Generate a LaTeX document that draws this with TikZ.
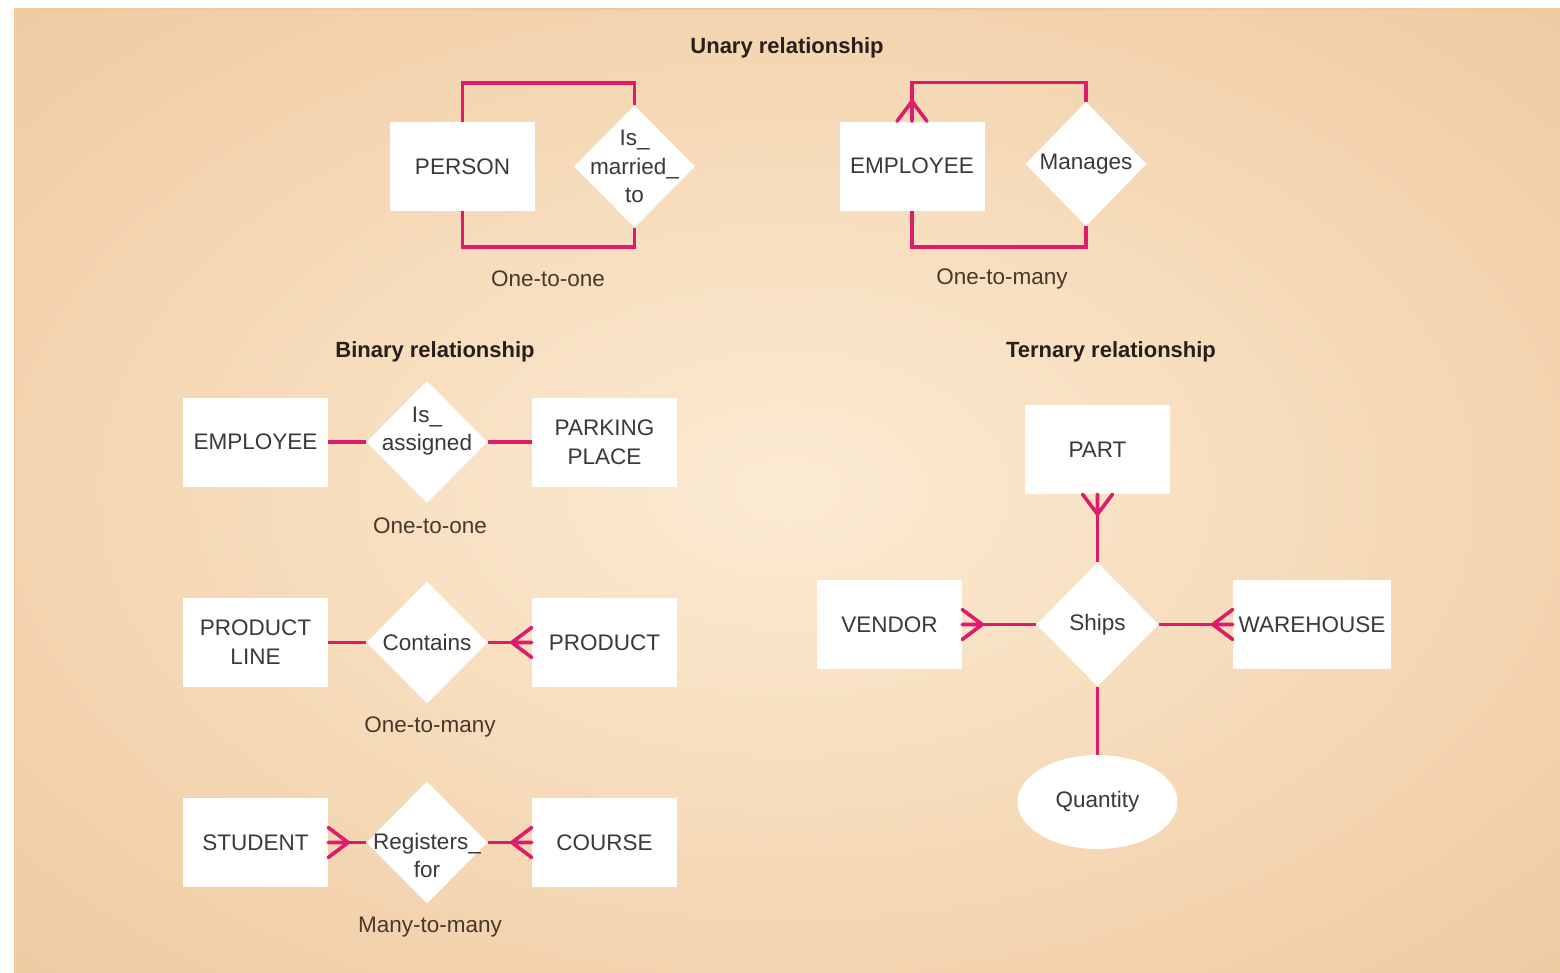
\documentclass[tikz,border=0pt]{standalone}
\usepackage{fontspec}
\setmainfont{Liberation Sans}
\usetikzlibrary{shapes.geometric,calc}

\definecolor{relpink}{RGB}{222,28,108}
\definecolor{inktext}{RGB}{58,56,56}
\definecolor{captext}{RGB}{72,56,42}
\definecolor{titletext}{RGB}{40,30,26}
\definecolor{panelA}{RGB}{251,234,210}
\definecolor{panelB}{RGB}{249,227,198}
\definecolor{panelC}{RGB}{242,209,171}
\definecolor{panelD}{RGB}{234,192,147}
\definecolor{panelE}{RGB}{229,182,135}
\definecolor{panelrim}{RGB}{244,200,150}

\pgfdeclareradialshading{panelglow}{\pgfpoint{0bp}{0bp}}{%
  color(0bp)=(panelA); color(9bp)=(panelB); color(28bp)=(panelC);
  color(48bp)=(panelD); color(75bp)=(panelE)}

\tikzset{
  entity/.style={fill=white, minimum width=145pt, minimum height=89pt,
    inner sep=0pt, align=center, text=inktext,
    font=\fontsize{22.5}{29}\selectfont},
  relation/.style={diamond, fill=white, minimum width=121pt,
    minimum height=122pt, inner sep=0pt},
  rtext/.style={align=center, text=inktext, inner sep=0pt,
    font=\fontsize{22.5}{28.5}\selectfont},
  attribute/.style={ellipse, fill=white, minimum width=160pt,
    minimum height=94pt, inner sep=0pt, text=inktext,
    font=\fontsize{22.5}{28}\selectfont},
  link/.style={draw=relpink, line width=3.6pt},
  caption/.style={text=captext, inner sep=0pt,
    font=\fontsize{22.5}{28}\selectfont},
  heading/.style={text=titletext, inner sep=0pt,
    font=\bfseries\fontsize{22}{26}\selectfont},
  crowfoot/.pic={
    \draw[link, line cap=round] (-20,0) -- (0,-15)
      (-20,0) -- (0,0) (-20,0) -- (0,15);
  },
}

\begin{document}
\begin{tikzpicture}[x=1pt,y=-1pt]
\useasboundingbox (0,0) rectangle (1560,972);
\fill[white] (0,0) rectangle (1560,972);
\shade[shading=panelglow] (14,8) rectangle (1560,972);
\draw[panelrim, line width=2pt] (15,972) -- (15,9) -- (1560,9);

% ---------- unary ----------
\node[heading] (tunary) at (787,48) {Unary relationship};

\node[entity] (person) at (462.5,166.5) {PERSON};
\node[relation, label={[rtext]center:{Is\_\\married\_\\to}}] (married) at (634.5,166.5) {};
\draw[link] (person.north) -- ++(0,-39) -| (married.north);
\draw[link] (person.south) -- ++(0,36) -| (married.south);
\node[caption] (c11) at (548,279) {One-to-one};

\node[entity] (boss) at (912,166) {EMPLOYEE};
\node[relation, minimum height=124pt, label={[rtext]center:{Manages}}] (manages) at (1086,164) {};
\draw[link] (boss.north) -- ++(0,-39) -| (manages.north);
\draw[link] (boss.south) -- ++(0,36) -| (manages.south);
\pic[rotate=-90] at (boss.north) {crowfoot};
\node[caption] (c1m) at (1002,279) {One-to-many};

% ---------- binary ----------
\node[heading] (tbinary) at (435,352) {Binary relationship};

\node[entity] (emp) at (255.5,442) {EMPLOYEE};
\node[relation, label={[rtext, yshift=11pt]center:{Is\_\\assigned}}] (assigned) at (427,442) {};
\node[entity] (parking) at (604.5,442) {PARKING\\PLACE};
\draw[link] (emp.east) -- (assigned.west);
\draw[link] (assigned.east) -- (parking.west);
\node[caption] (b11) at (430,526) {One-to-one};

\node[entity] (pline) at (255.5,642.5) {PRODUCT\\LINE};
\node[relation, label={[rtext]center:{Contains}}] (contains) at (427,642.5) {};
\node[entity] (product) at (604.5,642.5) {PRODUCT};
\draw[link] (pline.east) -- (contains.west);
\draw[link] (contains.east) -- (product.west);
\pic at (product.west) {crowfoot};
\node[caption] (b1m) at (430,727) {One-to-many};

\node[entity] (student) at (255.5,842.5) {STUDENT};
\node[relation, label={[rtext, yshift=-13pt]center:{Registers\_\\for}}] (registers) at (427,842.5) {};
\node[entity] (course) at (604.5,842.5) {COURSE};
\draw[link] (student.east) -- (registers.west);
\draw[link] (registers.east) -- (course.west);
\pic[rotate=180] at (student.east) {crowfoot};
\pic at (course.west) {crowfoot};
\node[caption] (bmm) at (430,927) {Many-to-many};

% ---------- ternary ----------
\node[heading] (tternary) at (1111,352) {Ternary relationship};

\node[entity] (part) at (1097.5,449.5) {PART};
\node[relation, minimum width=122pt, minimum height=124pt,
      label={[rtext]center:{Ships}}] (ships) at (1097.5,624.5) {};
\node[entity] (vendor) at (889.5,624.5) {VENDOR};
\node[entity, minimum width=158pt] (warehouse) at (1312,624.5) {WAREHOUSE};
\node[attribute] (quantity) at (1097.5,802) {Quantity};

\draw[link] (part.south) -- (ships.north);
\draw[link] (vendor.east) -- (ships.west);
\draw[link] (ships.east) -- (warehouse.west);
\draw[link] (ships.south) -- (quantity.north);
\pic[rotate=90] at (part.south) {crowfoot};
\pic[rotate=180] at (vendor.east) {crowfoot};
\pic at (warehouse.west) {crowfoot};
\end{tikzpicture}
\end{document}
